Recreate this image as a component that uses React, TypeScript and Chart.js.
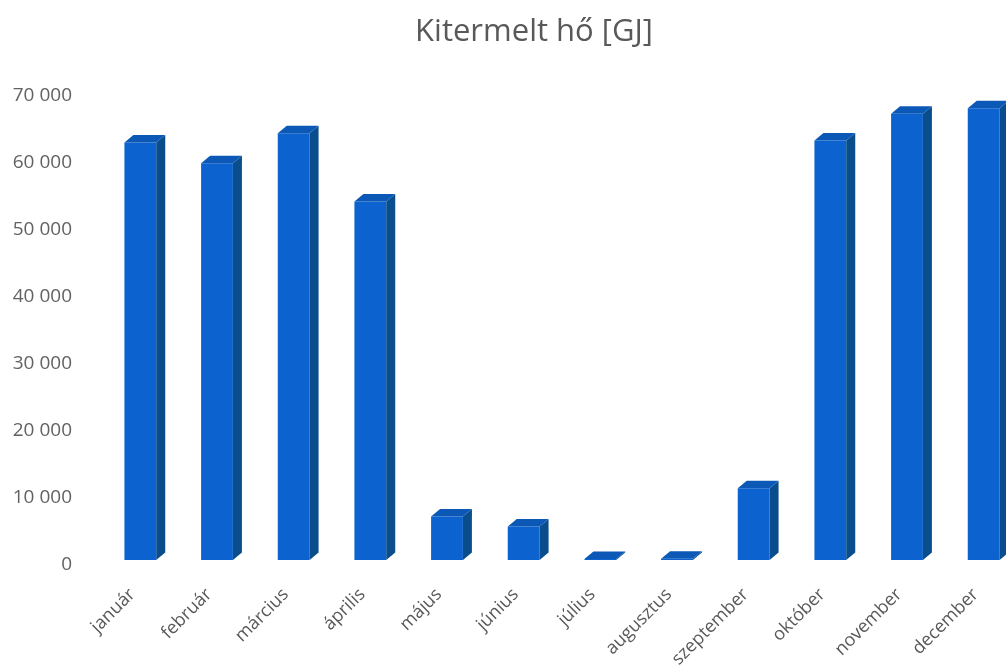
import React, { useEffect, useRef } from "react";
import { Chart, registerables } from "chart.js";

Chart.register(...registerables);

const CATEGORIES = [
  "január",
  "február",
  "március",
  "április",
  "május",
  "június",
  "július",
  "augusztus",
  "szeptember",
  "október",
  "november",
  "december",
];
const HEAT_GJ = [62200, 59100, 63600, 53400, 6500, 5000, 150, 200, 10700, 62500, 66500, 67300];
const Y_MAX = 70000;
const Y_STEP = 10000;
const TITLE = "Kitermelt hő [GJ]";

const FRONT = "#0c63cf";
const SIDE = "#0a4d8c";
const TOP = "#0b58b6";
const DX = 9;
const DY = 7.5;

const bar3d = {
  id: "bar3d",
  afterLayout(chart: any) {
    const tb = chart.titleBlock;
    if (tb) {
      tb.left = 0;
      tb.right = chart.width;
      tb.width = chart.width;
    }
  },
  afterDatasetsDraw(chart: any) {
    const ctx = chart.ctx;
    const meta = chart.getDatasetMeta(0);
    ctx.save();
    meta.data.forEach((el: any) => {
      const p = el.getProps(["x", "y", "base", "width"], true);
      const l = p.x - p.width / 2;
      const r = p.x + p.width / 2;
      const t = p.y;
      const b = p.base;
      ctx.fillStyle = SIDE;
      ctx.beginPath();
      ctx.moveTo(r, t);
      ctx.lineTo(r + DX, t - DY);
      ctx.lineTo(r + DX, b - DY);
      ctx.lineTo(r, b);
      ctx.closePath();
      ctx.fill();
      ctx.fillStyle = TOP;
      ctx.beginPath();
      ctx.moveTo(l, t);
      ctx.lineTo(l + DX, t - DY);
      ctx.lineTo(r + DX, t - DY);
      ctx.lineTo(r, t);
      ctx.closePath();
      ctx.fill();
    });
    ctx.restore();
  },
};

const fmt = (v: number) => String(v).replace(/\B(?=(\d{3})+(?!\d))/g, " ");

export default function App() {
  const ref = useRef<HTMLCanvasElement | null>(null);
  useEffect(() => {
    if (!ref.current) return;
    const chart = new Chart(ref.current, {
      type: "bar",
      data: {
        labels: CATEGORIES,
        datasets: [
          {
            data: HEAT_GJ,
            backgroundColor: FRONT,
            borderWidth: 0,
            categoryPercentage: 1,
            barPercentage: 0.415,
          },
        ],
      },
      plugins: [bar3d],
      options: {
        animation: false,
        responsive: false,
        layout: { padding: { left: 0, right: 46, top: 0, bottom: 0 } },
        plugins: {
          legend: { display: false },
          tooltip: { enabled: false },
          title: {
            display: true,
            text: TITLE,
            color: "#595959",
            font: { family: "'Open Sans'", size: 31, weight: "normal" },
            padding: { top: 14, bottom: 39 },
          },
        },
        scales: {
          x: {
            grid: { display: false, drawTicks: false },
            border: { display: false },
            ticks: {
              color: "#595959",
              font: { family: "'Open Sans'", size: 18 },
              minRotation: 45,
              maxRotation: 45,
              padding: 24,
              labelOffset: -8,
              autoSkip: false,
            },
            afterFit: (s: any) => {
              s.height = 106;
            },
          },
          y: {
            min: 0,
            max: Y_MAX,
            grid: { display: false, drawTicks: false },
            border: { display: false },
            ticks: {
              stepSize: Y_STEP,
              color: "#626262",
              font: { family: "'Open Sans'", size: 19 },
              padding: 30,
              labelOffset: 5,
              callback: (v: any) => fmt(Number(v)),
            },
            afterFit: (s: any) => {
              s.width = 102;
            },
          },
        },
      },
    });
    return () => chart.destroy();
  }, []);
  return (
    <div
      style={{
        position: "absolute",
        left: 0,
        top: 0,
        width: 1006,
        height: 666,
        overflow: "hidden",
        background: "#fff",
      }}
    >
      <canvas ref={ref} width={1068} height={666} style={{ display: "block" }} />
    </div>
  );
}
